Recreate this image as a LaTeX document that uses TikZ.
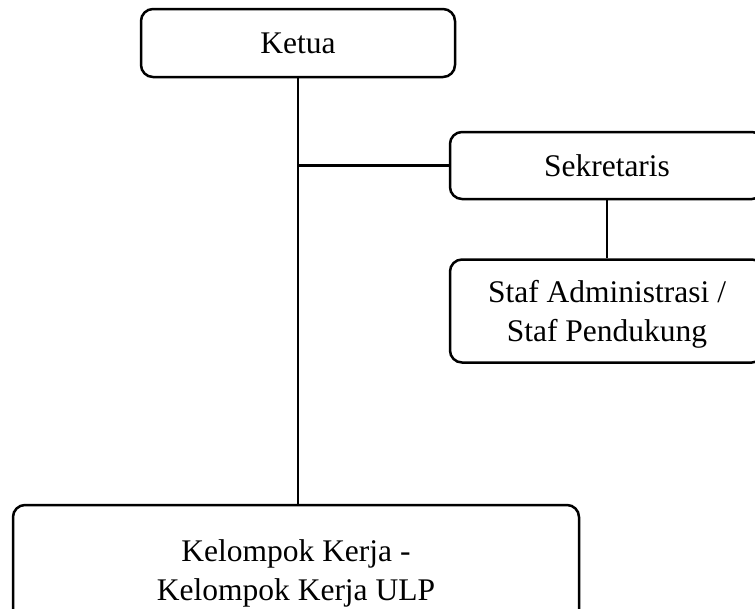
\documentclass[tikz,border=0pt]{standalone}
\usepackage{fontspec}
\setmainfont{Liberation Serif}
\begin{document}
\begin{tikzpicture}[x=1pt,y=-1pt]
    \tikzstyle{jabatan} = [rectangle, rounded corners=12pt, draw=black, line width=2.5pt, minimum width=314pt, align=center, inner sep=0pt, font=\fontsize{31.5}{39}\selectfont];
    \tikzstyle{garis} = [black, line width=2.5pt];

    \useasboundingbox (0,0) rectangle (755,608);
    \clip (0,0) rectangle (755,608);

    \node[jabatan, minimum height=68pt] (ketua) at (298,43) {Ketua};
    \node[jabatan, minimum height=67pt] (sekretaris) at (607,165.5) {Sekretaris};
    \node[jabatan, minimum height=103pt, text depth=0pt] (staf) at (607,311) {Staf Administrasi /\\Staf Pendukung};
    \node[jabatan, minimum width=566pt, minimum height=130pt, text depth=0pt] (pokja) at (296,570) {Kelompok Kerja -\\Kelompok Kerja ULP};

    \draw[garis] (ketua.south) -- (ketua.south |- pokja.north);
    \draw[garis] (sekretaris.west) -- (sekretaris.west -| ketua.south);
    \draw[garis] (sekretaris.south) -- (staf.north);

\end{tikzpicture}
\end{document}
